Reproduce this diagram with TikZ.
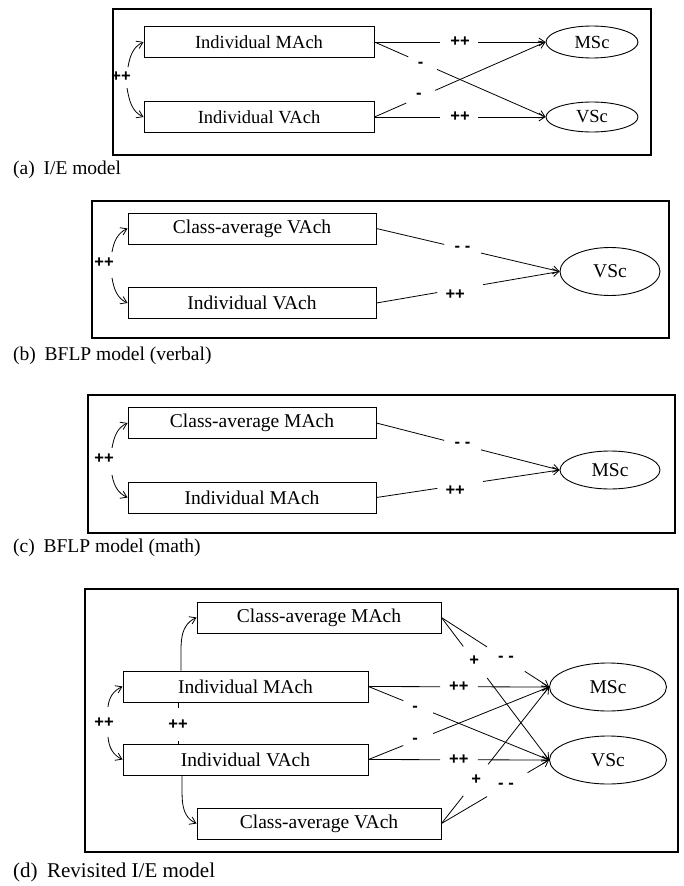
\documentclass[tikz,border=0pt]{standalone}
\usepackage{fontspec}
\setmainfont{Liberation Serif}
\newfontfamily\signfont{Liberation Sans}
\usetikzlibrary{shapes.geometric,arrows.meta,calc}
\tikzset{
  outerframe/.style={draw, line width=1.4pt},
  varbox/.style={draw, line width=0.9pt, rectangle, inner sep=0pt, minimum height=31pt, font=\fontsize{19.5}{22}\selectfont},
  latent/.style={draw, line width=0.9pt, ellipse, inner sep=0pt, font=\fontsize{19.5}{22}\selectfont},
  conn/.style={line width=0.8pt},
  arr/.style={-{Straight Barb[length=6pt,width=8pt]}},
  sgn/.style={font=\signfont\bfseries\fontsize{16.5}{18}\selectfont, inner sep=0pt},
  captxt/.style={anchor=west, inner sep=0pt, font=\fontsize{19.5}{22}\selectfont},
}
\newcommand{\gapped}[6][]{%
  \path (#2) -- (#3) coordinate[pos=#4] (gA) coordinate[pos=#5] (gB);
  \draw[conn] (#2) -- (gA);
  \draw[conn,arr] (gB) -- (#3);
  \path (#2) -- (#3) node[sgn,pos=#6,#1] {\gaplabel};
}
\newcommand{\gaplabel}{}
\newcommand{\glink}[7][]{\renewcommand{\gaplabel}{#7}\gapped[#1]{#2}{#3}{#4}{#5}{#6}}
\begin{document}
\begin{tikzpicture}[x=1pt,y=1pt]
\useasboundingbox (0,0) rectangle (684,-886);
% ---------------- (a)
\draw[outerframe] (113,-9) rectangle (651,-155);
\node[varbox, minimum width=230pt, font=\fontsize{18.5}{22}\selectfont] (aMA) at (259,-42) {Individual MAch};
\node[varbox, minimum width=230pt, font=\fontsize{18.5}{22}\selectfont] (aVA) at (259,-117) {Individual VAch};
\node[latent, minimum width=92pt, minimum height=32pt, font=\fontsize{18.5}{22}\selectfont] (aMS) at (592,-42) {MSc};
\node[latent, minimum width=92pt, minimum height=30pt, font=\fontsize{18.5}{22}\selectfont] (aVS) at (592,-117) {VSc};
\glink{aMA.east}{aMS.west}{0.384}{0.605}{0.5}{++}
\glink[yshift=-3pt]{aMA.east}{aVS.west}{0.198}{0.366}{0.27}{-}
\glink[yshift=2pt]{aVA.east}{aMS.west}{0.186}{0.355}{0.26}{-}
\glink{aVA.east}{aVS.west}{0.384}{0.605}{0.5}{++}
\node[sgn] (aR) at (121,-77) {++};
\coordinate (aC1) at (128,-67);
\coordinate (aC2) at (127,-88);
\draw[conn,arr] (aC1) to[out=80,in=205] (aMA.west);
\draw[conn,arr] (aC2) to[out=-80,in=155] (aVA.west);
\node[captxt] (capA) at (13,-170) {(a)\hspace{0.45em}I/E model};
% ---------------- (b)
\draw[outerframe] (92,-201) rectangle (669,-338);
\node[varbox, minimum width=248pt] (bCV) at (252,-228.5) {Class-average VAch};
\node[varbox, minimum width=248pt] (bIV) at (252,-303) {Individual VAch};
\node[latent, minimum width=100pt, minimum height=48pt] (bVS) at (610,-271.5) {VSc};
\glink{bCV.east}{bVS.west}{0.37}{0.571}{0.47}{- -}
\glink[yshift=-5pt]{bIV.east}{bVS.west}{0.332}{0.582}{0.43}{++}
\node[sgn] (bR) at (104,-263) {++};
\coordinate (bC1) at (112,-252);
\coordinate (bC2) at (112,-278);
\draw[conn,arr] (bC1) to[out=80,in=205] (bCV.west);
\draw[conn,arr] (bC2) to[out=-80,in=155] (bIV.west);
\node[captxt] (capB) at (13,-356) {(b)\hspace{0.45em}BFLP model (verbal)};
% ---------------- (c)
\draw[outerframe] (88,-395) rectangle (675,-533);
\node[varbox, minimum width=248pt] (cCM) at (252,-423) {Class-average MAch};
\node[varbox, minimum width=248pt] (cIM) at (252,-497.5) {Individual MAch};
\node[latent, minimum width=100pt, minimum height=38pt] (cMS) at (610,-470) {MSc};
\glink{cCM.east}{cMS.west}{0.37}{0.571}{0.47}{- -}
\glink[yshift=-5pt]{cIM.east}{cMS.west}{0.332}{0.582}{0.43}{++}
\node[sgn] (cR) at (104,-459) {++};
\coordinate (cC1) at (112,-448);
\coordinate (cC2) at (112,-475);
\draw[conn,arr] (cC1) to[out=80,in=205] (cCM.west);
\draw[conn,arr] (cC2) to[out=-80,in=155] (cIM.west);
\node[captxt] (capC) at (13,-548) {(c)\hspace{0.45em}BFLP model (math)};
% ---------------- (d)
\draw[outerframe] (85,-589) rectangle (678,-852);
\node[varbox, minimum width=244pt] (dCM) at (319,-617.5) {Class-average MAch};
\node[varbox, minimum width=245pt] (dIM) at (245.5,-686.5) {Individual MAch};
\node[varbox, minimum width=245pt] (dIV) at (245.5,-759.5) {Individual VAch};
\node[varbox, minimum width=244pt] (dCV) at (319,-823.5) {Class-average VAch};
\node[latent, minimum width=117pt, minimum height=48pt] (dMS) at (608,-687) {MSc};
\node[latent, minimum width=117pt, minimum height=48pt] (dVS) at (608,-760) {VSc};
\glink{dCM.east}{dMS.west}{0.424}{0.774}{0.6}{- -}
\glink{dCM.east}{dVS.west}{0.203}{0.424}{0.304}{+}
\glink{dIM.east}{dMS.west}{0.397}{0.606}{0.5}{++}
\glink[yshift=-3pt]{dIM.east}{dVS.west}{0.193}{0.358}{0.259}{-}
\glink{dIV.east}{dMS.west}{0.193}{0.358}{0.259}{-}
\glink{dIV.east}{dVS.west}{0.397}{0.606}{0.5}{++}
\glink{dCV.east}{dMS.west}{0.203}{0.433}{0.323}{+}
\glink{dCV.east}{dVS.west}{0.424}{0.80}{0.6}{- -}
\draw[conn,arr] ([xshift=-64.5pt]dIM.north) to[out=88,in=205] (dCM.west);
\draw[conn,arr] ([xshift=-63.5pt]dIV.south) to[out=-88,in=155] (dCV.west);
\node[sgn] (dR) at (104,-723) {++};
\coordinate (dC1) at (108,-707);
\coordinate (dC2) at (108,-737);
\draw[conn,arr] (dC1) to[out=85,in=205] (dIM.west);
\draw[conn,arr] (dC2) to[out=-85,in=155] (dIV.west);
\node[sgn] (dM) at (178,-725) {++};
\draw[conn] ([xshift=-67.5pt]dIM.south) -- ++(0,-6);
\draw[conn] ([xshift=-67.5pt]dIV.north) -- ++(0,3);
\node[captxt, font=\fontsize{21}{24}\selectfont] (capD) at (13,-872) {(d)\hspace{0.45em}Revisited I/E model};
\end{tikzpicture}
\end{document}
